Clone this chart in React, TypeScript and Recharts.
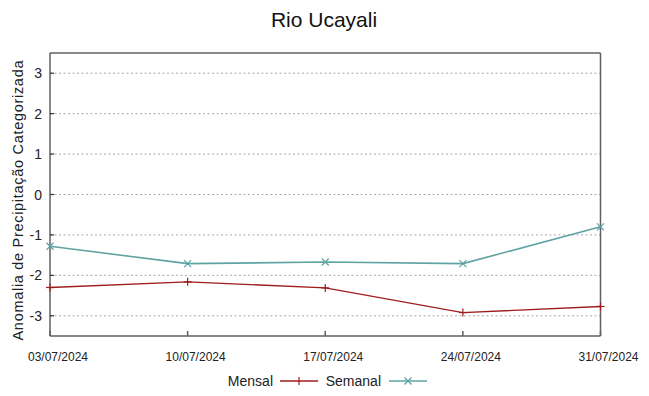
import React from 'react';
import { LineChart, Line, XAxis, YAxis, CartesianGrid } from 'recharts';

const dates = ['03/07/2024', '10/07/2024', '17/07/2024', '24/07/2024', '31/07/2024'];
const mensal = [-2.3, -2.16, -2.31, -2.92, -2.77];
const semanal = [-1.28, -1.71, -1.67, -1.71, -0.8];
const yTicks = [-3, -2, -1, 0, 1, 2, 3];
const seriesNames = ['Mensal', 'Semanal'];
const titleText = 'Rio Ucayali';
const yLabel = 'Anomalia de Precipitação Categorizada';

const data = dates.map((d, i) => ({ date: d, mensal: mensal[i], semanal: semanal[i] }));

const RED = '#a01c1c';
const TEAL = '#5fa3a3';
const AXIS = '#606060';
const FONT = '"Liberation Sans", Arial, sans-serif';

const PlusDot = (props: any) => {
  const { cx, cy, index } = props;
  if (cx == null || cy == null) return <g key={index} />;
  return (
    <g key={index}>
      <line x1={cx - 4} y1={cy} x2={cx + 4} y2={cy} stroke={RED} strokeWidth={1.2} />
      <line x1={cx} y1={cy - 4} x2={cx} y2={cy + 4} stroke={RED} strokeWidth={1.2} />
    </g>
  );
};

const CrossDot = (props: any) => {
  const { cx, cy, index } = props;
  if (cx == null || cy == null) return <g key={index} />;
  return (
    <g key={index}>
      <line x1={cx - 3.5} y1={cy - 3.5} x2={cx + 3.5} y2={cy + 3.5} stroke={TEAL} strokeWidth={1.2} />
      <line x1={cx - 3.5} y1={cy + 3.5} x2={cx + 3.5} y2={cy - 3.5} stroke={TEAL} strokeWidth={1.2} />
    </g>
  );
};

const XTick = (props: any) => {
  const { x, y, payload } = props;
  return (
    <text x={x + 8} y={y} dy="0.71em" textAnchor="middle" fontSize={12} fill="#222" fontFamily={FONT}>
      {payload.value}
    </text>
  );
};

const YTick = (props: any) => {
  const { x, y, payload } = props;
  return (
    <text x={x} y={y} dy="0.36em" textAnchor="end" fontSize={14} fill="#222" fontFamily={FONT}>
      {payload.value}
    </text>
  );
};

export default function App() {
  return (
    <div style={{ position: 'absolute', left: 0, top: 0, width: 649, height: 396, background: '#fff', fontFamily: FONT }}>
      <LineChart width={649} height={396} data={data} margin={{ top: 52, right: 0, bottom: 0, left: 0 }}>
        <CartesianGrid
          xAxisId="bottom"
          yAxisId="left"
          horizontal
          vertical={false}
          horizontalValues={yTicks}
          stroke="#a8a8a8"
          strokeDasharray="2 2.5"
          strokeWidth={1}
        />
        <XAxis
          dataKey="date"
          xAxisId="bottom"
          height={60}
          interval={0}
          tickSize={-5}
          tickMargin={21}
          tick={<XTick />}
          axisLine={{ stroke: AXIS, strokeWidth: 1.5 }}
          tickLine={{ stroke: AXIS, strokeWidth: 1.5 }}
        />
        <XAxis
          dataKey="date"
          xAxisId="top"
          orientation="top"
          height={1}
          interval={0}
          tickSize={-5}
          tick={false}
          axisLine={{ stroke: AXIS, strokeWidth: 1.5 }}
          tickLine={{ stroke: AXIS, strokeWidth: 1.5 }}
        />
        <YAxis
          yAxisId="left"
          type="number"
          domain={[-3.5, 3.5]}
          ticks={yTicks}
          width={50}
          tickSize={-4}
          tickMargin={12}
          tick={<YTick />}
          axisLine={{ stroke: AXIS, strokeWidth: 1.5 }}
          tickLine={{ stroke: '#333', strokeWidth: 1.2 }}
        />
        <YAxis
          yAxisId="right"
          orientation="right"
          type="number"
          domain={[-3.5, 3.5]}
          ticks={yTicks}
          width={48.5}
          tickSize={-4}
          tick={false}
          axisLine={{ stroke: AXIS, strokeWidth: 1.5 }}
          tickLine={{ stroke: '#333', strokeWidth: 1.2 }}
        />
        <Line
          xAxisId="bottom"
          yAxisId="left"
          type="linear"
          dataKey="mensal"
          name={seriesNames[0]}
          stroke={RED}
          strokeWidth={1.3}
          dot={PlusDot}
          activeDot={false}
          isAnimationActive={false}
        />
        <Line
          xAxisId="bottom"
          yAxisId="left"
          type="linear"
          dataKey="semanal"
          name={seriesNames[1]}
          stroke={TEAL}
          strokeWidth={1.6}
          dot={CrossDot}
          activeDot={false}
          isAnimationActive={false}
        />
      </LineChart>
      <svg
        width={649}
        height={396}
        style={{ position: 'absolute', left: 0, top: 0, pointerEvents: 'none' }}
      >
        <text x={324} y={27} textAnchor="middle" fontSize={21} fill="#111" fontFamily={FONT}>
          {titleText}
        </text>
        <text
          x={18}
          y={200.5}
          transform="rotate(-90 18 200.5)"
          textAnchor="middle"
          dy="0.36em"
          fontSize={14.5}
          textLength={280}
          lengthAdjust="spacing"
          fill="#222"
          fontFamily={FONT}
        >
          {yLabel}
        </text>
        <text x={273} y={386} textAnchor="end" fontSize={14} fill="#222" fontFamily={FONT}>
          {seriesNames[0]}
        </text>
        <line x1={280} y1={381} x2={318} y2={381} stroke={RED} strokeWidth={1.3} />
        <line x1={299} y1={377} x2={299} y2={385} stroke={RED} strokeWidth={1.2} />
        <text x={381} y={386} textAnchor="end" fontSize={14} fill="#222" fontFamily={FONT}>
          {seriesNames[1]}
        </text>
        <line x1={389} y1={381} x2={427} y2={381} stroke={TEAL} strokeWidth={1.3} />
        <line x1={404.5} y1={377.5} x2={411.5} y2={384.5} stroke={TEAL} strokeWidth={1.2} />
        <line x1={404.5} y1={384.5} x2={411.5} y2={377.5} stroke={TEAL} strokeWidth={1.2} />
      </svg>
    </div>
  );
}
